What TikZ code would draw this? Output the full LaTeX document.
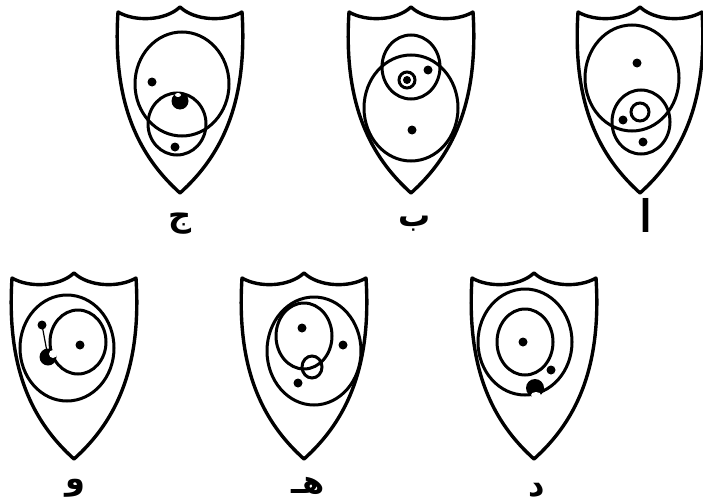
\documentclass[tikz,border=0pt]{standalone}
\usepackage{fontspec}
\newfontfamily\arabicfont[Script=Arabic]{DejaVu Sans Bold}
\TeXXeTstate=1
\tikzset{
  shield/.pic={
    \draw[line width=3.4pt, line join=round]
      (-62,5) .. controls (-45,15) and (-15,14) .. (0,0)
      .. controls (15,14) and (45,15) .. (62,5)
      .. controls (68,98) and (40,150) .. (0,186)
      .. controls (-40,150) and (-68,98) .. (-62,5) -- cycle;
  },
  ring/.style={line width=3pt},
  letter/.style={font=\fontsize{32}{36}\arabicfont, inner sep=0pt},
}

\begin{document}
\begin{tikzpicture}[x=1pt, y=-1pt]
  \useasboundingbox (0,0) rectangle (703,503);
  % top row
  \pic at (180,7) {shield};
  \pic at (411,7) {shield};
  \pic at (640,7) {shield};
  % bottom row
  \pic at (74,273) {shield};
  \pic at (304,273) {shield};
  \pic at (534,273) {shield};

  % jim
  \draw[ring] (182,84) ellipse [x radius=47pt, y radius=52pt];
  \draw[ring] (177,124) ellipse [x radius=29pt, y radius=31pt];
  \fill (152,82) circle [radius=4.5pt];
  \fill (180,101) circle [radius=8.5pt];
  \fill[white] (178,95) ellipse [x radius=3pt, y radius=2pt];
  \fill (175,147) circle [radius=4.5pt];

  % ba
  \draw[ring] (411,67) ellipse [x radius=29pt, y radius=32pt];
  \draw[ring] (411,108) ellipse [x radius=47pt, y radius=53pt];
  \draw[ring] (407,80) circle [radius=8pt];
  \fill (407,80) circle [radius=4pt];
  \fill (428,70) circle [radius=4.5pt];
  \fill (412,130) circle [radius=4.5pt];

  % alef
  \draw[ring] (632,78) ellipse [x radius=47pt, y radius=53pt];
  \draw[ring] (641,122) ellipse [x radius=29pt, y radius=32pt];
  \draw[ring] (640,112) circle [radius=9pt];
  \fill (637,63) circle [radius=4.5pt];
  \fill (623,120) circle [radius=4.5pt];
  \fill (643,142) circle [radius=4.5pt];

  % waw
  \draw[ring] (67,348) ellipse [x radius=47pt, y radius=53pt];
  \draw[ring] (78,342) ellipse [x radius=28pt, y radius=32pt];
  \fill (80,345) circle [radius=4.5pt];
  \fill (42,325) circle [radius=4.5pt];
  \draw[line width=1.2pt] (42,325) -- (48,357);
  \fill (48,357) circle [radius=8.5pt];
  \fill[white] (53,354) ellipse [x radius=4pt, y radius=4pt];

  % ha
  \draw[ring] (314,351) ellipse [x radius=47pt, y radius=54pt];
  \draw[ring] (304,336) ellipse [x radius=28pt, y radius=33pt];
  \draw[ring] (312,367) ellipse [x radius=10pt, y radius=11pt];
  \fill (302,328) circle [radius=4.5pt];
  \fill (343,345) circle [radius=4.5pt];
  \fill (298,383) circle [radius=4.5pt];

  % dal
  \draw[ring] (525,342) ellipse [x radius=47pt, y radius=53pt];
  \draw[ring] (525,342) ellipse [x radius=28pt, y radius=33pt];
  \fill (523,342) circle [radius=4.5pt];
  \fill (551,370) circle [radius=4.5pt];
  \fill (535,388) circle [radius=9pt];
  \fill[white] (536,395) ellipse [x radius=5pt, y radius=3pt];

  % labels
  \node[letter] (jim) at (180,224) {\beginR ج\endR};
  \node[letter] (ba) at (415,224) {\beginR ب\endR};
  \node[letter, yscale=1.4] (alef) at (646,215) {\beginR ا\endR};
  \node[letter] (waw) at (75,488) {\beginR و\endR};
  \node[letter] (ha) at (308,486) {\beginR هـ\endR};
  \node[letter] (dal) at (537,490) {\beginR د\endR};
\end{tikzpicture}
\end{document}
